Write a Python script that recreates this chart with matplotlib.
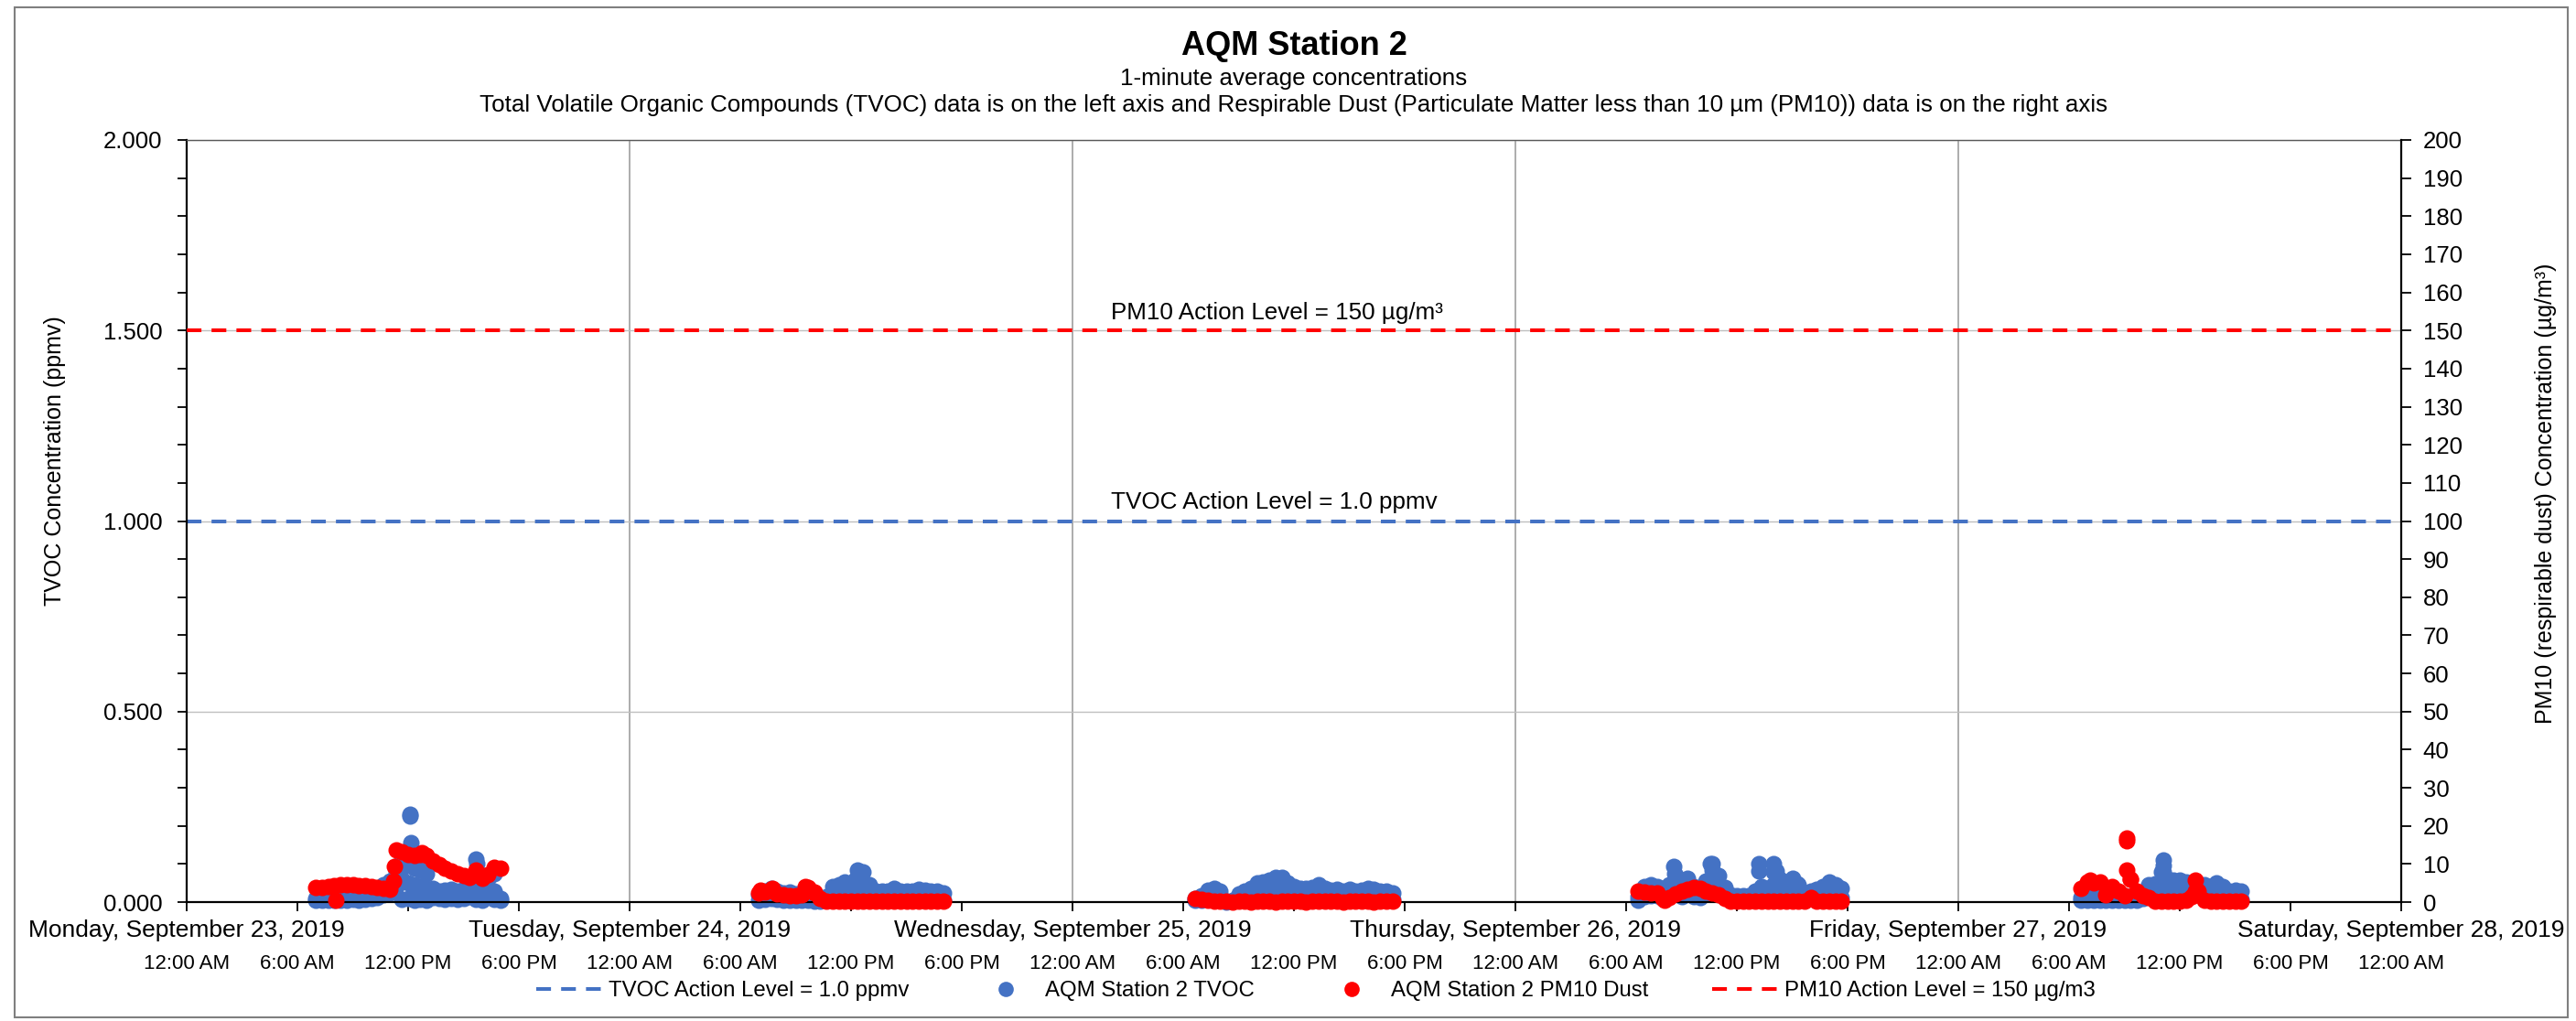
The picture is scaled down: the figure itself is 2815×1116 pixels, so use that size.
import numpy as np
import pandas as pd
import matplotlib
matplotlib.use("Agg")
import matplotlib.pyplot as plt
import matplotlib.dates as mdates
from matplotlib.ticker import MultipleLocator, FormatStrFormatter
from matplotlib.lines import Line2D
from matplotlib.patches import Rectangle

plt.rcParams['font.family'] = ['Liberation Sans', 'DejaVu Sans']

BLUE = '#4472C4'
RED = '#FF0000'

# 1-minute data summarised per 20-minute window (median-ish and max TVOC, PM10 level)
days = ['2019-09-23', '2019-09-24', '2019-09-25', '2019-09-26', '2019-09-27']
day_names = ['Monday, September 23, 2019', 'Tuesday, September 24, 2019',
             'Wednesday, September 25, 2019', 'Thursday, September 26, 2019',
             'Friday, September 27, 2019', 'Saturday, September 28, 2019']
first_window = ['07:00', '07:00', '06:40', '06:40', '06:40']

tvoc_max_mon = [0.010, 0.012, 0.015, 0.018, 0.020, 0.022, 0.025, 0.024, 0.026, 0.028,
                0.030, 0.045, 0.055, 0.080, 0.110, 0.095, 0.090, 0.085, 0.075, 0.035,
                0.030, 0.032, 0.034, 0.030, 0.033, 0.045, 0.080, 0.070, 0.060, 0.075, 0.010]
tvoc_med_mon = [0.004, 0.005, 0.006, 0.006, 0.005, 0.006, 0.007, 0.006, 0.008, 0.010,
                0.012, 0.020, 0.025, 0.040, 0.060, 0.050, 0.045, 0.040, 0.035, 0.012,
                0.010, 0.008, 0.010, 0.008, 0.010, 0.015, 0.035, 0.030, 0.025, 0.030, 0.004]
pm10_mon = [3.8, 3.9, 4.1, 4.3, 4.5, 4.6, 4.5, 4.4, 4.3, 4.1,
            3.9, 3.6, 3.4, 13.8, 13.2, 12.6, 12.3, 12.4, 12.3, 10.8,
            9.8, 9.0, 8.2, 7.5, 7.0, 6.6, 7.2, 6.3, 7.3, 9.2, 8.9]

tvoc_max_tue = [0.020, 0.030, 0.035, 0.028, 0.025, 0.026, 0.022, 0.018, 0.015, 0.012,
                0.010, 0.015, 0.040, 0.045, 0.052, 0.050, 0.060, 0.080, 0.045, 0.030,
                0.028, 0.030, 0.036, 0.030, 0.028, 0.030, 0.033, 0.032, 0.028, 0.030, 0.025]
tvoc_med_tue = [0.005, 0.008, 0.010, 0.008, 0.006, 0.006, 0.005, 0.004, 0.004, 0.003,
                0.003, 0.004, 0.015, 0.018, 0.022, 0.020, 0.025, 0.035, 0.018, 0.010,
                0.008, 0.010, 0.012, 0.010, 0.008, 0.010, 0.012, 0.010, 0.008, 0.010, 0.006]
pm10_tue = [2.4, 2.6, 3.4, 2.2, 1.9, 1.8, 1.6, 2.0, 3.8, 2.4,
            1.0, 0.3, 0.2, 0.3, 0.2, 0.2, 0.3, 0.2, 0.2, 0.3,
            0.2, 0.2, 0.2, 0.3, 0.2, 0.2, 0.2, 0.3, 0.2, 0.2, 0.2]

tvoc_max_wed = [0.010, 0.018, 0.032, 0.035, 0.030, 0.002, 0.005, 0.022, 0.030, 0.036,
                0.050, 0.054, 0.058, 0.064, 0.064, 0.050, 0.040, 0.036, 0.035, 0.038,
                0.045, 0.036, 0.032, 0.033, 0.030, 0.033, 0.030, 0.032, 0.035, 0.033,
                0.030, 0.028, 0.024]
tvoc_med_wed = [0.004, 0.006, 0.012, 0.014, 0.010, 0.001, 0.002, 0.008, 0.012, 0.015,
                0.022, 0.025, 0.028, 0.030, 0.030, 0.022, 0.016, 0.014, 0.014, 0.015,
                0.018, 0.014, 0.012, 0.012, 0.010, 0.012, 0.010, 0.012, 0.014, 0.012,
                0.010, 0.010, 0.008]
pm10_wed = [1.0, 0.8, 0.6, 0.3, 0.2, 0.2, 0.1, 0.2, 0.2, 0.1,
            0.2, 0.2, 0.2, 0.1, 0.2, 0.2, 0.2, 0.2, 0.1, 0.2,
            0.2, 0.2, 0.2, 0.2, 0.1, 0.2, 0.2, 0.2, 0.2, 0.1,
            0.2, 0.2, 0.2]

tvoc_max_thu = [0.015, 0.040, 0.045, 0.042, 0.030, 0.045, 0.070, 0.040, 0.062, 0.040,
                0.035, 0.055, 0.100, 0.070, 0.038, 0.020, 0.018, 0.018, 0.018, 0.030,
                0.040, 0.030, 0.080, 0.060, 0.040, 0.062, 0.045, 0.025, 0.030, 0.034,
                0.040, 0.054, 0.045, 0.035]
tvoc_med_thu = [0.005, 0.015, 0.018, 0.016, 0.010, 0.015, 0.030, 0.015, 0.025, 0.015,
                0.012, 0.025, 0.045, 0.030, 0.015, 0.008, 0.007, 0.007, 0.007, 0.012,
                0.015, 0.012, 0.035, 0.025, 0.015, 0.025, 0.018, 0.010, 0.012, 0.012,
                0.015, 0.022, 0.018, 0.012]
pm10_thu = [3.0, 2.6, 2.4, 2.4, 1.0, 1.2, 2.2, 2.8, 3.4, 3.8,
            3.6, 3.0, 2.4, 2.0, 1.0, 0.3, 0.2, 0.2, 0.2, 0.2,
            0.3, 0.2, 0.2, 0.2, 0.2, 0.2, 0.3, 0.2, 1.2, 0.2,
            0.2, 0.2, 0.2, 0.2]

tvoc_max_fri = [0.012, 0.014, 0.015, 0.014, 0.016, 0.015, 0.014, 0.016, 0.015, 0.018,
                0.025, 0.045, 0.048, 0.080, 0.060, 0.058, 0.058, 0.054, 0.050, 0.048,
                0.045, 0.040, 0.050, 0.040, 0.030, 0.032, 0.028]
tvoc_med_fri = [0.004, 0.005, 0.005, 0.004, 0.006, 0.005, 0.004, 0.006, 0.005, 0.006,
                0.010, 0.020, 0.022, 0.035, 0.028, 0.025, 0.025, 0.022, 0.020, 0.020,
                0.018, 0.015, 0.020, 0.015, 0.010, 0.012, 0.008]
pm10_fri = [3.6, 5.4, 5.0, 5.2, 2.0, 4.0, 3.0, 1.8, 6.0, 2.8,
            1.6, 1.2, 0.2, 0.2, 0.2, 0.3, 0.3, 0.6, 1.5, 3.0,
            0.4, 0.2, 0.2, 0.2, 0.2, 0.2, 0.2]

# isolated 1-minute readings (spikes / dips)
tvoc_spike_time = ['2019-09-23 11:40', '2019-09-23 12:00', '2019-09-23 12:20', '2019-09-23 12:40',
                   '2019-09-23 13:00', '2019-09-23 15:40', '2019-09-23 16:00', '2019-09-23 16:40',
                   '2019-09-23 12:05', '2019-09-23 12:07', '2019-09-23 12:08', '2019-09-23 12:10',
                   '2019-09-23 15:40', '2019-09-23 15:42',
                   '2019-09-24 12:15', '2019-09-24 12:20',
                   '2019-09-26 08:35', '2019-09-26 08:38', '2019-09-26 10:35', '2019-09-26 10:40',
                   '2019-09-26 13:10', '2019-09-26 13:12', '2019-09-26 13:58', '2019-09-26 14:08',
                   '2019-09-26 14:00', '2019-09-26 15:15',
                   '2019-09-27 11:05', '2019-09-27 11:06', '2019-09-27 11:07']
tvoc_spike_val = [0.008, 0.010, 0.006, 0.008,
                  0.006, 0.008, 0.006, 0.008,
                  0.225, 0.230, 0.157, 0.140,
                  0.114, 0.100,
                  0.060, 0.085,
                  0.094, 0.075, 0.100, 0.085,
                  0.100, 0.082, 0.100, 0.082,
                  0.046, 0.048,
                  0.110, 0.095, 0.080]

pm10_spike_time = ['2019-09-23 08:05', '2019-09-23 11:15', '2019-09-23 11:12', '2019-09-23 12:45',
                   '2019-09-23 15:40',
                   '2019-09-24 07:05', '2019-09-24 07:45', '2019-09-24 09:30', '2019-09-24 10:00',
                   '2019-09-26 08:05',
                   '2019-09-27 07:07', '2019-09-27 09:06', '2019-09-27 09:08', '2019-09-27 09:08',
                   '2019-09-27 09:20', '2019-09-27 12:50', '2019-09-27 12:50']
pm10_spike_val = [0.6, 9.3, 5.6, 13.0,
                  8.3,
                  3.2, 3.6, 4.0, 2.6,
                  0.6,
                  5.8, 16.8, 16.2, 8.5,
                  6.1, 5.8, 3.0]

tvoc_action = 1.0
pm10_action = 150

tvoc_max = [tvoc_max_mon, tvoc_max_tue, tvoc_max_wed, tvoc_max_thu, tvoc_max_fri]
tvoc_med = [tvoc_med_mon, tvoc_med_tue, tvoc_med_wed, tvoc_med_thu, tvoc_med_fri]
pm10 = [pm10_mon, pm10_tue, pm10_wed, pm10_thu, pm10_fri]

W, H = 2815, 1116
fig = plt.figure(figsize=(W / 100, H / 100), dpi=100)
x0, x1, y0, y1 = 204, 2624, 153, 986
ax = fig.add_axes([x0 / W, 1 - y1 / H, (x1 - x0) / W, (y1 - y0) / H])
ax2 = ax.twinx()

mk = dict(marker='o', linestyle='none', markersize=13, markeredgewidth=0, clip_on=False)
for d, start, med, mx, pm in zip(days, first_window, tvoc_med, tvoc_max, pm10):
    t = pd.Timestamp(d + ' ' + start) + pd.to_timedelta(np.arange(len(mx)) * 20, unit='min')
    ax.plot(t, med, color=BLUE, **mk)
    ax.plot(t, mx, color=BLUE, **mk)
    ax2.plot(t, pm, color=RED, **mk)
ax.plot(pd.to_datetime(tvoc_spike_time), tvoc_spike_val, color=BLUE, **mk)
ax2.plot(pd.to_datetime(pm10_spike_time), pm10_spike_val, color=RED, **mk)

dash = dict(lw=2.9, dashes=(4, 2.75))
ax.axhline(tvoc_action, color=BLUE, zorder=1.5, **dash)
ax2.axhline(pm10_action, color=RED, zorder=1.5, **dash)

ax.set_xlim(pd.Timestamp('2019-09-23'), pd.Timestamp('2019-09-28'))
ax.set_ylim(0, 2)
ax2.set_ylim(0, 200)

ax.xaxis.set_major_locator(mdates.DayLocator())
ax.xaxis.set_minor_locator(mdates.HourLocator(byhour=[6, 12, 18]))
fmt = mdates.DateFormatter('%-I:%M %p')
ax.xaxis.set_major_formatter(fmt)
ax.xaxis.set_minor_formatter(fmt)
ax.tick_params(axis='x', which='both', length=7, width=1.3, pad=34, labelsize=16, colors='black')

ax.yaxis.set_major_locator(MultipleLocator(0.5))
ax.yaxis.set_minor_locator(MultipleLocator(0.1))
ax.yaxis.set_major_formatter(FormatStrFormatter('%.3f'))
ax.tick_params(axis='y', which='both', length=7, width=1.3, pad=12, labelsize=18.5)

ax2.yaxis.set_major_locator(MultipleLocator(10))
ax2.yaxis.set_major_formatter(FormatStrFormatter('%d'))
ax2.tick_params(axis='y', length=8, width=1.3, pad=9, labelsize=18.5)

ax.grid(axis='y', which='major', color='#BFBFBF', lw=1.0)
ax.grid(axis='x', which='major', color='#A6A6A6', lw=1.3)
ax.set_axisbelow(True)

for s in ['left', 'bottom']:
    ax.spines[s].set_linewidth(1.6)
    ax.spines[s].set_color('black')
ax.spines['right'].set_visible(False)
ax.spines['top'].set_color('#595959')
ax.spines['top'].set_linewidth(1.0)
ax2.spines['right'].set_linewidth(1.6)
ax2.spines['right'].set_color('black')
for s in ['left', 'bottom', 'top']:
    ax2.spines[s].set_visible(False)

# day labels under the axis
for i, name in enumerate(day_names):
    ax.text(pd.Timestamp('2019-09-23') + pd.Timedelta(days=i), -31 / (y1 - y0), name,
            transform=ax.get_xaxis_transform(), ha='center', va='center', fontsize=19)

ax.annotate('PM10 Action Level = 150 µg/m³', xy=(pd.Timestamp('2019-09-25 11:04'), 1.5),
            xytext=(0, 14), textcoords='offset points', ha='center', va='center', fontsize=18.7)
ax.annotate('TVOC Action Level = 1.0 ppmv', xy=(pd.Timestamp('2019-09-25 10:55'), 1.0),
            xytext=(0, 15), textcoords='offset points', ha='center', va='center', fontsize=18.7)

cx = (x0 + x1) / 2 / W
fig.text(cx, 1 - 50 / H, 'AQM Station 2', ha='center', va='center', fontsize=26, fontweight='bold')
fig.text(cx, 1 - 86 / H, '1-minute average concentrations', ha='center', va='center', fontsize=18.7)
fig.text(cx, 1 - 115 / H, 'Total Volatile Organic Compounds (TVOC) data is on the left axis and '
         'Respirable Dust (Particulate Matter less than 10 µm (PM10)) data is on the right axis',
         ha='center', va='center', fontsize=18.7)

fig.text(60 / W, 1 - 504 / H, 'TVOC Concentration (ppmv)', rotation=90,
         ha='center', va='center', fontsize=18)
fig.text(2782 / W, 1 - 539 / H, 'PM10 (respirable dust) Concentration (µg/m³)', rotation=90,
         ha='center', va='center', fontsize=18)

handles = [Line2D([], [], color=BLUE, **dash),
           Line2D([], [], color=BLUE, marker='o', linestyle='none', markersize=12, markeredgewidth=0),
           Line2D([], [], color=RED, marker='o', linestyle='none', markersize=12, markeredgewidth=0),
           Line2D([], [], color=RED, **dash)]
labels = ['TVOC Action Level = 1.0 ppmv', 'AQM Station 2 TVOC',
          'AQM Station 2 PM10 Dust', 'PM10 Action Level = 150 µg/m3']
fig.legend(handles, labels, loc='center', bbox_to_anchor=(1438 / W, 1 - 1083 / H), ncol=4,
           frameon=False, fontsize=17.3, handlelength=3, handletextpad=0.3, columnspacing=2.9)

fig.patches.append(Rectangle((16 / W, 4 / H), (2806 - 16) / W, (1108 - 4) / H,
                             transform=fig.transFigure, fill=False, edgecolor='#7F7F7F', lw=1.5))

fig.savefig('out.png', dpi=100)
